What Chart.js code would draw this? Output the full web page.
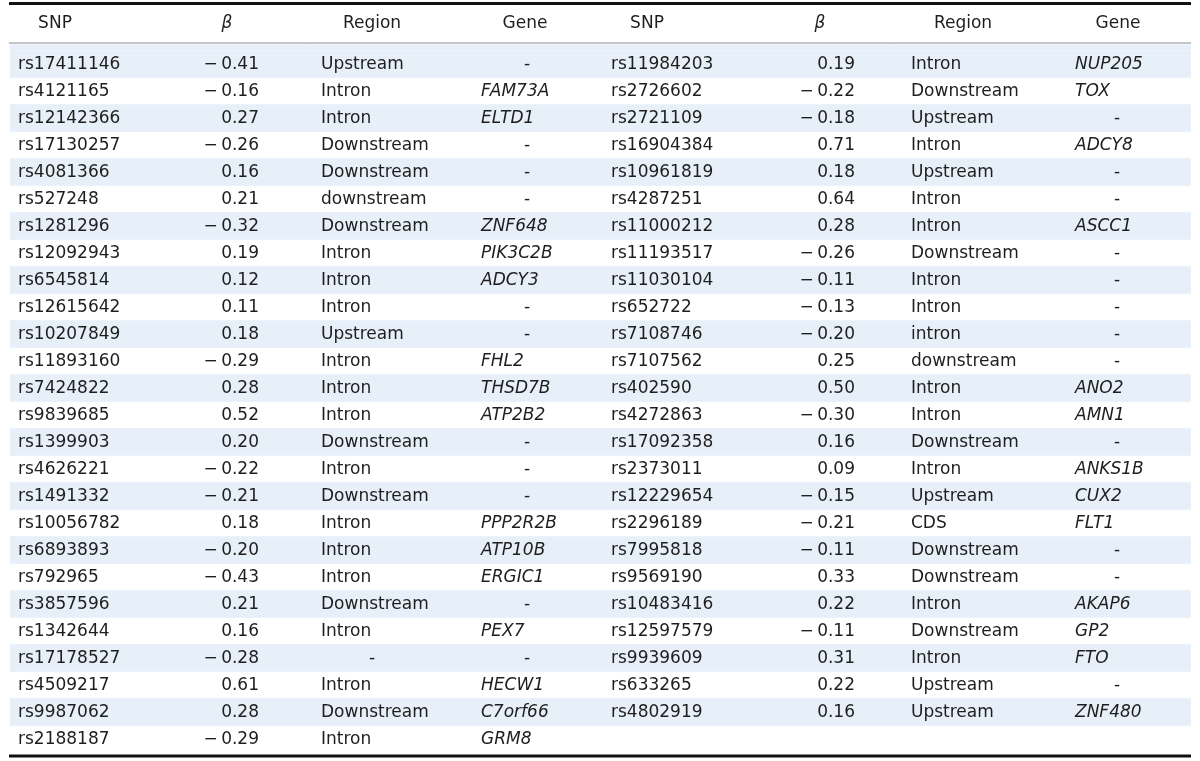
<!DOCTYPE html>
<html>
<head>
<meta charset="utf-8">
<script src="https://cdn.jsdelivr.net/npm/chart.js@4.4.1/dist/chart.umd.min.js"></script>
<style>
  html, body { margin: 0; background: #fff; }
  #wrap { width: 1200px; height: 761px; position: relative; }
</style>
</head>
<body>
<div id="wrap"><canvas id="snpTable"></canvas></div>
<script>
// ---- table data (left half) ----
const snpLeft = ['rs17411146','rs4121165','rs12142366','rs17130257','rs4081366','rs527248','rs1281296','rs12092943','rs6545814','rs12615642','rs10207849','rs11893160','rs7424822','rs9839685','rs1399903','rs4626221','rs1491332','rs10056782','rs6893893','rs792965','rs3857596','rs1342644','rs17178527','rs4509217','rs9987062','rs2188187'];
const betaLeft = [-0.41,-0.16,0.27,-0.26,0.16,0.21,-0.32,0.19,0.12,0.11,0.18,-0.29,0.28,0.52,0.20,-0.22,-0.21,0.18,-0.20,-0.43,0.21,0.16,-0.28,0.61,0.28,-0.29];
const regionLeft = ['Upstream','Intron','Intron','Downstream','Downstream','downstream','Downstream','Intron','Intron','Intron','Upstream','Intron','Intron','Intron','Downstream','Intron','Downstream','Intron','Intron','Intron','Downstream','Intron','-','Intron','Downstream','Intron'];
const geneLeft = ['-','FAM73A','ELTD1','-','-','-','ZNF648','PIK3C2B','ADCY3','-','-','FHL2','THSD7B','ATP2B2','-','-','-','PPP2R2B','ATP10B','ERGIC1','-','PEX7','-','HECW1','C7orf66','GRM8'];

// ---- table data (right half) ----
const snpRight = ['rs11984203','rs2726602','rs2721109','rs16904384','rs10961819','rs4287251','rs11000212','rs11193517','rs11030104','rs652722','rs7108746','rs7107562','rs402590','rs4272863','rs17092358','rs2373011','rs12229654','rs2296189','rs7995818','rs9569190','rs10483416','rs12597579','rs9939609','rs633265','rs4802919'];
const betaRight = [0.19,-0.22,-0.18,0.71,0.18,0.64,0.28,-0.26,-0.11,-0.13,-0.20,0.25,0.50,-0.30,0.16,0.09,-0.15,-0.21,-0.11,0.33,0.22,-0.11,0.31,0.22,0.16];
const regionRight = ['Intron','Downstream','Upstream','Intron','Upstream','Intron','Intron','Downstream','Intron','Intron','intron','downstream','Intron','Intron','Downstream','Intron','Upstream','CDS','Downstream','Downstream','Intron','Downstream','Intron','Upstream','Upstream'];
const geneRight = ['NUP205','TOX','-','ADCY8','-','-','ASCC1','-','-','-','-','-','ANO2','AMN1','-','ANKS1B','CUX2','FLT1','-','-','AKAP6','GP2','FTO','-','ZNF480'];

const headers = ['SNP','\u03b2','Region','Gene'];

const rowIdx = snpLeft.map((_, i) => i); // 26 rows
const tableWidth = 1181;

// column anchors, px from the table's left edge (head = centre of header, x = text anchor, dash = centre of "-")
const colsLeft  = { snp: {head: 45,  x: 8},   beta: {head: 217, x: 249},  region: {head: 362, x: 311, dash: 362},  gene: {head: 515,  x: 471,  dash: 517} };
const colsRight = { snp: {head: 637, x: 601}, beta: {head: 810, x: 845},  region: {head: 953, x: 901, dash: 953},  gene: {head: 1108, x: 1065, dash: 1107} };

const FONT = '17px "DejaVu Sans"';
const FONT_IT = 'italic 17px "DejaVu Sans"';
const INK = '#1e1e1e';
const STRIPE = '#e7eff8';

const fmtBeta = v => (v < 0 ? '\u2212\u2009' : '') + Math.abs(v).toFixed(2);

const tablePlugin = {
  id: 'tablePlugin',
  beforeDatasetsDraw(chart) {
    const {ctx, scales: {x, y}} = chart;
    const rowH = y.getPixelForValue(1) - y.getPixelForValue(0);
    const headLine = y.getPixelForValue(0) - rowH / 2 - 7.5;
    // first stripe runs up to the header rule
    ctx.save();
    ctx.fillStyle = STRIPE;
    ctx.fillRect(x.getPixelForValue(0), headLine + 1.5, x.getPixelForValue(tableWidth) - x.getPixelForValue(0), y.getPixelForValue(0) - rowH / 2 - headLine - 1.5);
    ctx.restore();
  },
  afterDatasetsDraw(chart) {
    const {ctx, scales: {x, y}} = chart;
    const rowH = y.getPixelForValue(1) - y.getPixelForValue(0);
    const top0 = y.getPixelForValue(0) - rowH / 2;
    const bottom = y.getPixelForValue(rowIdx.length - 1) + rowH / 2;
    const xl = x.getPixelForValue(0) - 1, xr = x.getPixelForValue(tableWidth);

    ctx.save();
    // rules
    ctx.strokeStyle = '#111';
    ctx.lineWidth = 3;
    ctx.beginPath(); ctx.moveTo(xl, top0 - 47); ctx.lineTo(xr, top0 - 47); ctx.stroke();
    ctx.beginPath(); ctx.moveTo(xl, bottom + 3.5); ctx.lineTo(xr, bottom + 3.5); ctx.stroke();
    ctx.strokeStyle = '#8c8c8c';
    ctx.lineWidth = 1;
    ctx.beginPath(); ctx.moveTo(xl, top0 - 7.5); ctx.lineTo(xr, top0 - 7.5); ctx.stroke();

    ctx.fillStyle = INK;
    ctx.textBaseline = 'middle';

    // header
    const headY = top0 - 26.5;
    [colsLeft, colsRight].forEach(cols => {
      ['snp','beta','region','gene'].forEach((k, j) => {
        ctx.font = j === 1 ? FONT_IT : FONT;
        ctx.textAlign = 'center';
        ctx.fillText(headers[j], x.getPixelForValue(cols[k].head), headY);
      });
    });

    const drawHalf = (cols, snp, beta, region, gene) => {
      snp.forEach((s, i) => {
        const py = y.getPixelForValue(i) + 1;
        ctx.font = FONT;
        ctx.textAlign = 'left';
        ctx.fillText(s, x.getPixelForValue(cols.snp.x), py);
        ctx.textAlign = 'right';
        ctx.fillText(fmtBeta(beta[i]), x.getPixelForValue(cols.beta.x), py);
        if (region[i] === '-') {
          ctx.textAlign = 'center';
          ctx.fillText('-', x.getPixelForValue(cols.region.dash), py);
        } else {
          ctx.textAlign = 'left';
          ctx.fillText(region[i], x.getPixelForValue(cols.region.x), py);
        }
        if (gene[i] === '-') {
          ctx.font = FONT;
          ctx.textAlign = 'center';
          ctx.fillText('-', x.getPixelForValue(cols.gene.dash), py);
        } else {
          ctx.font = FONT_IT;
          ctx.textAlign = 'left';
          ctx.fillText(gene[i], x.getPixelForValue(cols.gene.x), py);
        }
      });
    };
    drawHalf(colsLeft, snpLeft, betaLeft, regionLeft, geneLeft);
    drawHalf(colsRight, snpRight, betaRight, regionRight, geneRight);
    ctx.restore();
  }
};

const tableChart = new Chart(document.getElementById('snpTable').getContext('2d'), {
  type: 'bar',
  data: {
    labels: rowIdx,
    datasets: [{
      label: 'stripes',
      data: rowIdx.map(i => (i % 2 === 0 ? [0, tableWidth] : null)),
      backgroundColor: STRIPE,
      borderWidth: 0,
      categoryPercentage: 1,
      barPercentage: 1
    }]
  },
  options: {
    indexAxis: 'y',
    responsive: true,
    maintainAspectRatio: false,
    animation: false,
    events: [],
    layout: { padding: { left: 10, right: 9, top: 50.5, bottom: 8.5 } },
    plugins: { legend: { display: false }, tooltip: { enabled: false } },
    scales: {
      x: { type: 'linear', display: false, min: 0, max: tableWidth },
      y: { type: 'category', display: false, offset: true }
    }
  },
  plugins: [tablePlugin]
});
</script>
</body>
</html>
